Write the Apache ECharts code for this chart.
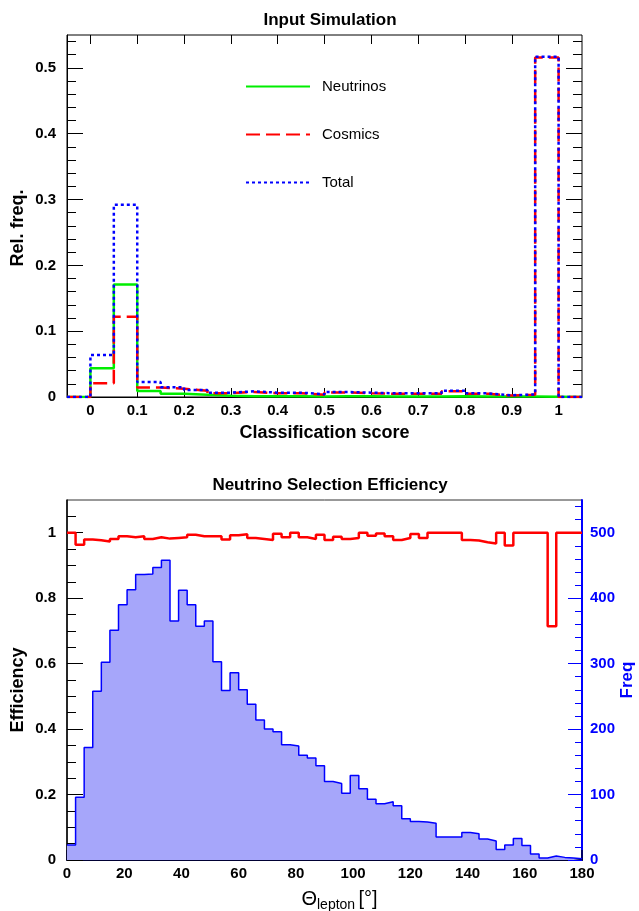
<!DOCTYPE html>
<html>
<head>
<meta charset="utf-8">
<script src="https://cdn.jsdelivr.net/npm/echarts@6/dist/echarts.min.js"></script>
<style>
html, body { margin: 0; padding: 0; background: #fff; }
#chart { width: 639px; height: 911px; }
</style>
</head>
<body>
<div id="chart"></div>
<script>
// ---- top panel: classification score histograms (bin edges, 0.05 wide) ----
const scoreEdges = [-0.05, 0, 0.05, 0.1, 0.15, 0.2, 0.25, 0.3, 0.35, 0.4, 0.45, 0.5,
  0.55, 0.6, 0.65, 0.7, 0.75, 0.8, 0.85, 0.9, 0.95, 1.0, 1.05];
const neutrinos = [0, 0.0436, 0.171, 0.0090, 0.0050, 0.0035, 0.0018, 0.0012, 0.0010, 0.0010, 0.0008,
  0.0010, 0.0010, 0.0008, 0.0008, 0.0008, 0.0010, 0.0008, 0.0006, 0.0006, 0.0004, 0];
const cosmics = [0, 0.0210, 0.122, 0.0145, 0.0125, 0.0095, 0.0058, 0.0076, 0.0058, 0.0058, 0.0035,
  0.0068, 0.0058, 0.0050, 0.0050, 0.0050, 0.0088, 0.0050, 0.0021, 0.0036, 0.516, 0];
const total = [0, 0.0638, 0.292, 0.0228, 0.0150, 0.0106, 0.0066, 0.0086, 0.0066, 0.0066, 0.0042,
  0.0076, 0.0066, 0.0056, 0.0056, 0.0056, 0.0096, 0.0056, 0.0026, 0.0040, 0.517, 0];
const scoreTicks = [0, 0.1, 0.2, 0.3, 0.4, 0.5, 0.6, 0.7, 0.8, 0.9, 1];
const relFreqTicks = [0, 0.1, 0.2, 0.3, 0.4, 0.5];

// ---- bottom panel: lepton angle, 3 degree bins ----
const thetaEdges = [0, 3, 6, 9, 12, 15, 18, 21, 24, 27, 30, 33, 36, 39, 42, 45, 48, 51, 54, 57, 60,
  63, 66, 69, 72, 75, 78, 81, 84, 87, 90, 93, 96, 99, 102, 105, 108, 111, 114, 117, 120,
  123, 126, 129, 132, 135, 138, 141, 144, 147, 150, 153, 156, 159, 162, 165, 168, 171, 174, 177, 180];
const freq = [23, 96, 172, 258, 302, 351, 390, 413, 436, 437, 447, 458, 365, 412, 390, 357, 365, 303,
  259, 286, 260, 238, 214, 200, 196, 176, 174, 160, 156, 144, 120, 117, 102, 129, 109, 93, 86, 89,
  83, 63, 59, 58, 56, 35, 35, 35, 42, 40, 32, 29, 16, 23, 33, 22, 9, 3, 6, 4, 3, 2];
const efficiency = [1.0, 0.963, 0.979, 0.977, 0.973, 0.981, 0.989, 0.986, 0.989, 0.981, 0.986,
  0.982, 0.984, 0.986, 0.994, 0.989, 0.989, 0.989, 0.979, 0.992, 0.995,
  0.984, 0.981, 0.978, 0.997, 0.986, 1.0, 0.986, 0.981, 0.994, 0.978,
  0.988, 0.981, 0.984, 1.0, 0.991, 0.998, 0.989, 0.978, 0.984, 0.996,
  0.984, 1.0, 1.0, 1.0, 1.0, 0.978, 0.976, 0.971, 0.967, 1.0,
  0.961, 1.0, 1.0, 1.0, 1.0, 0.714, 1.0, 1.0, 1.0];
const effTicks = [0, 0.2, 0.4, 0.6, 0.8, 1];
const freqTicks = [0, 100, 200, 300, 400, 500];

const FONT = 'Liberation Sans';

// histogram outline: one point per bin low edge, plus the last upper edge
function stepPoints(edges, values) {
  const pts = values.map((v, i) => [edges[i], v]);
  pts.push([edges[values.length], values[values.length - 1]]);
  return pts;
}

// minor tick positions between majors (not data, just tick marks)
function minorTicks(max, step, majorStep) {
  const out = [];
  for (let i = 1; i * step < max - 1e-9; i++) {
    const v = +(i * step).toFixed(4);
    if (Math.abs(v / majorStep - Math.round(v / majorStep)) > 1e-6) out.push(v);
  }
  return out;
}

// an axis that only draws tick marks
function tickAxis(grid, position, min, max, ticks, len, color) {
  return {
    type: 'value', gridIndex: grid, position: position, min: min, max: max,
    axisLine: { show: false, onZero: false }, axisLabel: { show: false }, splitLine: { show: false },
    axisTick: { show: true, inside: true, length: len, customValues: ticks,
      lineStyle: { color: color, width: 1 } }
  };
}

const labelStyle = { fontFamily: FONT, fontWeight: 'bold', fontSize: 15, color: '#000' };

const chart = echarts.init(document.getElementById('chart'), null, { renderer: 'canvas' });

const option = {
  animation: false,
  backgroundColor: '#fff',
  title: [
    { text: 'Input Simulation', left: 325, top: 7, textAlign: 'center',
      textStyle: { fontFamily: FONT, fontWeight: 'bold', fontSize: 17, color: '#000' } },
    { text: 'Neutrino Selection Efficiency', left: 325, top: 472, textAlign: 'center',
      textStyle: { fontFamily: FONT, fontWeight: 'bold', fontSize: 17, color: '#000' } }
  ],
  legend: {
    data: ['Neutrinos', 'Cosmics', 'Total'],
    orient: 'vertical', left: 240, top: 74,
    itemWidth: 64, itemHeight: 14, itemGap: 33,
    itemStyle: { opacity: 0 },
    textStyle: { fontFamily: FONT, fontSize: 15, color: '#000', padding: [0, 0, 0, 7] }
  },
  grid: [
    { left: 67, top: 35, width: 515, height: 362, show: true, borderColor: '#000', borderWidth: 1,
      outerBoundsMode: 'none' },
    { left: 67, top: 500, width: 515, height: 360, show: true, borderColor: '#333', borderWidth: 1,
      outerBoundsMode: 'none' }
  ],
  xAxis: [
    {
      type: 'value', gridIndex: 0, position: 'bottom', min: -0.05, max: 1.05,
      name: 'Classification score', nameLocation: 'middle', nameGap: 27,
      nameTextStyle: { fontFamily: FONT, fontWeight: 'bold', fontSize: 18, color: '#000' },
      axisLine: { onZero: false, lineStyle: { color: '#000', width: 1 } },
      axisTick: { inside: true, length: 9, customValues: scoreTicks, lineStyle: { color: '#000' } },
      axisLabel: Object.assign({ customValues: scoreTicks, margin: 6 }, labelStyle),
      splitLine: { show: false }
    },
    tickAxis(0, 'top', -0.05, 1.05, scoreTicks, 9, '#000'),
    {
      type: 'value', gridIndex: 1, position: 'bottom', min: 0, max: 180, interval: 20,
      name: '{a|Θ}{b|lepton} {a|[°]}', nameLocation: 'middle', nameGap: 26,
      nameTextStyle: {
        padding: [0, 0, 0, 30],
        rich: {
          a: { fontFamily: FONT, fontSize: 20, color: '#000' },
          b: { fontFamily: FONT, fontSize: 14, color: '#000', padding: [12, 0, 0, 0] }
        }
      },
      axisLine: { onZero: false, lineStyle: { color: '#000033', width: 2 } },
      axisTick: { inside: true, length: 10, lineStyle: { color: '#000033', width: 1.5 } },
      axisLabel: Object.assign({ margin: 6 }, labelStyle),
      splitLine: { show: false }
    }
  ],
  yAxis: [
    {
      type: 'value', gridIndex: 0, position: 'left', min: 0, max: 0.55,
      name: 'Rel. freq.', nameLocation: 'middle', nameGap: 40, nameRotate: 90, nameMoveOverlap: false,
      nameTextStyle: { fontFamily: FONT, fontWeight: 'bold', fontSize: 18, color: '#000',
        padding: [0, 24, 0, 0] },
      axisLine: { onZero: false, lineStyle: { color: '#000', width: 1 } },
      axisTick: { inside: true, length: 16, customValues: relFreqTicks, lineStyle: { color: '#000' } },
      axisLabel: Object.assign({ customValues: relFreqTicks, margin: 11 }, labelStyle),
      splitLine: { show: false }
    },
    tickAxis(0, 'left', 0, 0.55, minorTicks(0.55, 0.02, 0.1), 9, '#000'),
    tickAxis(0, 'right', 0, 0.55, relFreqTicks, 16, '#000'),
    tickAxis(0, 'right', 0, 0.55, minorTicks(0.55, 0.02, 0.1), 9, '#000'),
    {
      type: 'value', gridIndex: 1, position: 'left', min: 0, max: 1.1,
      name: 'Efficiency', nameLocation: 'middle', nameGap: 40, nameRotate: 90, nameMoveOverlap: false,
      nameTextStyle: { fontFamily: FONT, fontWeight: 'bold', fontSize: 18, color: '#000',
        padding: [0, 20, 0, 0] },
      axisLine: { onZero: false, lineStyle: { color: '#000', width: 1.5 } },
      axisTick: { inside: true, length: 16, customValues: effTicks, lineStyle: { color: '#000' } },
      axisLabel: Object.assign({ customValues: effTicks, margin: 11 }, labelStyle),
      splitLine: { show: false }
    },
    tickAxis(1, 'left', 0, 1.1, minorTicks(1.1, 0.05, 0.2), 9, '#000'),
    {
      type: 'value', gridIndex: 1, position: 'right', min: 0, max: 550,
      name: 'Freq', nameLocation: 'middle', nameGap: 37, nameRotate: 90, nameMoveOverlap: false,
      nameTextStyle: { fontFamily: FONT, fontWeight: 'bold', fontSize: 17, color: '#0000ff' },
      axisLine: { onZero: false, lineStyle: { color: '#0000ff', width: 2 } },
      axisTick: { inside: true, length: 14, customValues: freqTicks, lineStyle: { color: '#0000ff' } },
      axisLabel: Object.assign({}, labelStyle, { customValues: freqTicks, margin: 8, color: '#0000ff' }),
      splitLine: { show: false }
    },
    tickAxis(1, 'right', 0, 550, minorTicks(550, 20, 100), 7, '#0000ff')
  ],
  series: [
    {
      name: 'Neutrinos', type: 'line', step: 'end', xAxisIndex: 0, yAxisIndex: 0,
      symbol: 'none', data: stepPoints(scoreEdges, neutrinos), z: 3,
      itemStyle: { color: '#00ee00' },
      lineStyle: { color: '#00ee00', width: 2.5, type: 'solid' }
    },
    {
      name: 'Cosmics', type: 'line', step: 'end', xAxisIndex: 0, yAxisIndex: 0,
      symbol: 'none', data: stepPoints(scoreEdges, cosmics), z: 4,
      itemStyle: { color: '#ff0000' },
      lineStyle: { color: '#ff0000', width: 2.5, type: [14, 6] }
    },
    {
      name: 'Total', type: 'line', step: 'end', xAxisIndex: 0, yAxisIndex: 0,
      symbol: 'none', data: stepPoints(scoreEdges, total), z: 5,
      itemStyle: { color: '#0000ff' },
      lineStyle: { color: '#0000ff', width: 2.5, type: [3, 3] }
    },
    {
      name: 'Freq', type: 'line', step: 'end', xAxisIndex: 2, yAxisIndex: 6,
      symbol: 'none', data: stepPoints(thetaEdges, freq), z: 2,
      lineStyle: { color: '#0000ff', width: 1.5 },
      areaStyle: { color: '#a6a6fa', opacity: 1 }
    },
    {
      name: 'Efficiency', type: 'line', step: 'end', xAxisIndex: 2, yAxisIndex: 4,
      symbol: 'none', data: stepPoints(thetaEdges, efficiency), z: 4,
      lineStyle: { color: '#ff0000', width: 2.5 }
    }
  ]
};

chart.setOption(option);
</script>
</body>
</html>
